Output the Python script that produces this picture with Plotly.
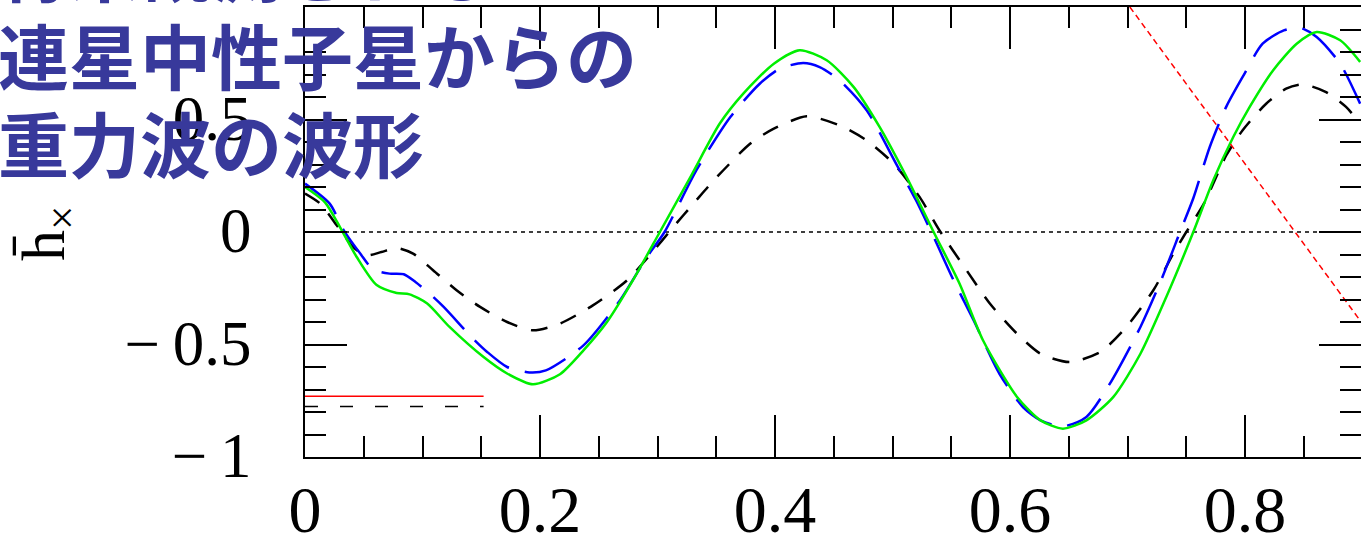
import plotly.graph_objects as go

# ---------------- data ----------------
green_x = [0.000, 0.017, 0.031, 0.044, 0.061, 0.078, 0.089, 0.104, 0.123, 0.152, 0.172, 0.194,
           0.217, 0.237, 0.257, 0.279, 0.302, 0.328, 0.353, 0.373, 0.399, 0.421, 0.444, 0.467,
           0.489, 0.512, 0.535, 0.557, 0.577, 0.606, 0.626, 0.645, 0.665, 0.688, 0.711, 0.733,
           0.756, 0.773, 0.790, 0.804, 0.824, 0.844, 0.861, 0.881, 0.898]
green_y = [0.200, 0.132, 0.010, -0.111, -0.236, -0.271, -0.277, -0.318, -0.422, -0.556, -0.629, -0.677,
           -0.632, -0.526, -0.400, -0.215, 0.000, 0.244, 0.482, 0.615, 0.748, 0.808, 0.763, 0.644,
           0.467, 0.244, 0.000, -0.229, -0.481, -0.733, -0.837, -0.874, -0.837, -0.733, -0.541, -0.289,
           0.000, 0.230, 0.422, 0.556, 0.719, 0.837, 0.889, 0.852, 0.756]

blue_x = [0.000, 0.021, 0.033, 0.047, 0.058, 0.072, 0.084, 0.094, 0.106, 0.118, 0.143, 0.155,
          0.172, 0.191, 0.205, 0.237, 0.268, 0.291, 0.306, 0.333, 0.362, 0.387, 0.404, 0.424,
          0.438, 0.455, 0.478, 0.503, 0.520, 0.535, 0.552, 0.569, 0.591, 0.611, 0.626, 0.645,
          0.665, 0.685, 0.711, 0.728, 0.745, 0.756, 0.770, 0.784, 0.798, 0.815, 0.833, 0.847,
          0.861, 0.881, 0.898]
blue_y = [0.215, 0.126, 0.007, -0.096, -0.167, -0.185, -0.188, -0.222, -0.274, -0.333, -0.474, -0.533,
          -0.600, -0.624, -0.615, -0.504, -0.304, -0.111, 0.000, 0.274, 0.511, 0.659, 0.726, 0.751,
          0.733, 0.674, 0.541, 0.304, 0.141, -0.022, -0.215, -0.392, -0.630, -0.778, -0.837, -0.864,
          -0.822, -0.674, -0.422, -0.222, 0.004, 0.150, 0.378, 0.556, 0.689, 0.837, 0.896, 0.908,
          0.867, 0.748, 0.570]

black_x = [0.000, 0.013, 0.027, 0.041, 0.052, 0.065, 0.078, 0.092, 0.109, 0.129, 0.149, 0.172,
           0.194, 0.217, 0.245, 0.274, 0.297, 0.311, 0.333, 0.348, 0.379, 0.399, 0.427, 0.455,
           0.478, 0.501, 0.523, 0.540, 0.563, 0.583, 0.606, 0.626, 0.651, 0.677, 0.699, 0.722,
           0.739, 0.750, 0.765, 0.784, 0.798, 0.818, 0.835, 0.849, 0.869, 0.886, 0.898]
black_y = [0.171, 0.126, 0.030, -0.067, -0.104, -0.089, -0.071, -0.096, -0.170, -0.259, -0.333, -0.400,
           -0.437, -0.407, -0.326, -0.215, -0.081, 0.007, 0.141, 0.230, 0.393, 0.459, 0.514, 0.474,
           0.407, 0.304, 0.156, 0.007, -0.170, -0.319, -0.452, -0.541, -0.578, -0.533, -0.422, -0.259,
           -0.096, 0.000, 0.126, 0.340, 0.452, 0.570, 0.637, 0.656, 0.622, 0.556, 0.481]

red_diag_x = [0.702, 0.900]
red_diag_y = [1.000, -0.408]

zero_x = [0.0, 0.9]
zero_y = [0.0, 0.0]

key_x = [0.0, 0.152]
key_red_y = [-0.730, -0.730]
key_black_y = [-0.775, -0.775]

x_tickvals = [0, 0.2, 0.4, 0.6, 0.8]
x_ticktext = ["0", "0.2", "0.4", "0.6", "0.8"]
y_tickvals = [-1, -0.5, 0, 0.5, 1]
y_ticktext = ["\u2212\u20091", "\u2212\u20090.5", "0", "0.5", "1"]

title_lines = ["将来観測される", "連星中性子星からの", "重力波の波形"]
y_label = "h\u0304<sub>×</sub>"

# ---------------- figure ----------------
W, H = 1361, 546
ML, MT, MB = 305, 7, 89
PW, PH = W - ML, H - MT - MB
XMAX = PW / 1175.0

fig = go.Figure()
fig.add_trace(go.Scatter(x=zero_x, y=zero_y, mode="lines",
                         line=dict(color="black", width=1.5, dash="4px,4px")))
fig.add_trace(go.Scatter(x=key_x, y=key_red_y, mode="lines",
                         line=dict(color="#ff0000", width=1.5)))
fig.add_trace(go.Scatter(x=key_x, y=key_black_y, mode="lines",
                         line=dict(color="black", width=1.5, dash="13px,22px")))
fig.add_trace(go.Scatter(x=black_x, y=black_y, mode="lines", line_shape="spline",
                         line=dict(color="black", width=2.5, dash="17px,14px", smoothing=0.7)))
fig.add_trace(go.Scatter(x=blue_x, y=blue_y, mode="lines", line_shape="spline",
                         line=dict(color="#0000ff", width=2.5, dash="44px,16px", smoothing=0.7)))
fig.add_trace(go.Scatter(x=green_x, y=green_y, mode="lines", line_shape="spline",
                         line=dict(color="#00ee00", width=2.5, smoothing=0.7)))
fig.add_trace(go.Scatter(x=red_diag_x, y=red_diag_y, mode="lines",
                         line=dict(color="#ff0000", width=1.5, dash="6px,4px")))

tickfont_x = dict(family="Liberation Serif", size=66, color="black")
tickfont_y = dict(family="Liberation Serif", size=63, color="black")

fig.update_xaxes(range=[0, XMAX], tickvals=x_tickvals, ticktext=x_ticktext, automargin=False,
                 ticks="inside", ticklen=42, tickwidth=2, tickcolor="black",
                 minor=dict(dtick=0.05, tick0=0, ticks="inside", ticklen=21, tickwidth=2, tickcolor="black"),
                 showline=True, linecolor="black", linewidth=2, mirror="ticks",
                 showgrid=False, zeroline=False, tickfont=tickfont_x, ticklabelstandoff=-6)
fig.update_yaxes(range=[-1, 1], tickvals=y_tickvals, ticktext=y_ticktext, automargin=False,
                 ticks="inside", ticklen=42, tickwidth=2, tickcolor="black",
                 minor=dict(dtick=0.1, tick0=0, ticks="inside", ticklen=21, tickwidth=2, tickcolor="black"),
                 showline=True, linecolor="black", linewidth=2, mirror="ticks",
                 showgrid=False, zeroline=False, tickfont=tickfont_y, ticklabelstandoff=39,
                 ticklabelshift=-2)

def px_to_paper_x(px):
    return (px - ML) / PW

def py_to_paper_y(py):
    return (H - MB - py) / PH

annotations = []
line_centers = [-35, 53, 141]
for txt, cy in zip(title_lines, line_centers):
    annotations.append(dict(text=txt, xref="paper", yref="paper",
                            x=px_to_paper_x(-4), y=py_to_paper_y(cy),
                            xanchor="left", yanchor="middle", showarrow=False,
                            font=dict(family="Noto Sans CJK JP", size=71, color="#38399b", weight=700)))
annotations.append(dict(text=y_label, xref="paper", yref="paper",
                        x=px_to_paper_x(47), y=py_to_paper_y(234), textangle=-90,
                        xanchor="center", yanchor="middle", showarrow=False,
                        font=dict(family="Liberation Serif", size=62, color="black")))

fig.update_layout(width=W, height=H, margin=dict(l=ML, r=0, t=MT, b=MB, pad=0),
                  paper_bgcolor="white", plot_bgcolor="white", showlegend=False,
                  annotations=annotations)

fig.write_html("out.html")
